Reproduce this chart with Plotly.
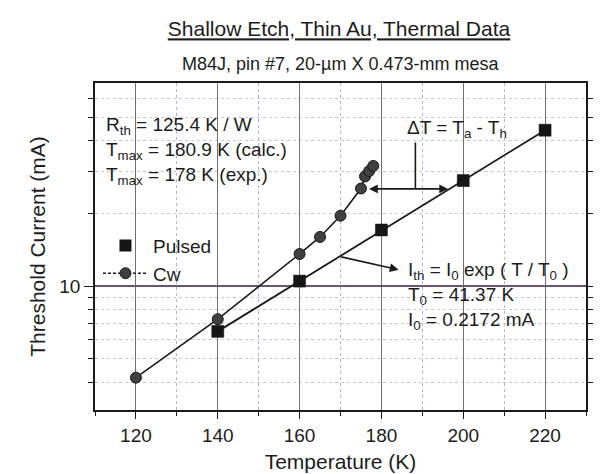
import math
import plotly.graph_objects as go

# ---- data ----
temps_pulsed = [140, 160, 180, 200, 220]
ith_pulsed = [6.5, 10.5, 17.1, 27.4, 44.3]
temps_cw = [120, 140, 160, 165, 170, 175, 176, 177, 178]
ith_cw = [4.18, 7.3, 13.6, 16.0, 19.6, 25.4, 28.5, 30.0, 31.5]
x_tickvals = [120, 140, 160, 180, 200, 220]
x_minor = [110, 130, 150, 170, 190, 210, 230]
y_tickvals = [10]
y_ticktext = ["10"]
y_minor = [4, 5, 6, 7, 8, 9, 20, 30, 40, 50, 60]

FONT = "Arial, Liberation Sans, sans-serif"
X_RANGE = [110, 230]
Y_RANGE = [math.log10(3.07), math.log10(69.5)]

fig = go.Figure()

# Cw data
fig.add_trace(go.Scatter(
    x=temps_cw, y=ith_cw, mode="lines+markers", showlegend=False,
    line=dict(color="#1a1a1a", width=1.6),
    marker=dict(symbol="circle", size=11, color="#404040", line=dict(color="#1a1a1a", width=1)),
))
# Pulsed data
fig.add_trace(go.Scatter(
    x=temps_pulsed, y=ith_pulsed, mode="lines+markers", showlegend=False,
    line=dict(color="#1a1a1a", width=1.8),
    marker=dict(symbol="square", size=12, color="#161616", line=dict(color="#111", width=0.5)),
))
# legend entries
fig.add_trace(go.Scatter(
    x=[None], y=[None], mode="markers", name="Pulsed",
    marker=dict(symbol="square", size=12, color="#161616"),
))
fig.add_trace(go.Scatter(
    x=[None], y=[None], mode="lines+markers", name="Cw",
    line=dict(color="#1a1a1a", width=1.4, dash="3px,2px"),
    marker=dict(symbol="circle", size=11, color="#404040", line=dict(color="#1a1a1a", width=1)),
))

# delta-T marker: vertical stem
dT_level = 25.3
fig.add_trace(go.Scatter(
    x=[188.3, 188.3], y=[dT_level, 39.4], mode="lines", showlegend=False,
    line=dict(color="#1a1a1a", width=1.6), hoverinfo="skip",
))

ann_font = dict(family=FONT, size=19, color="#1c1c1c")

def px_x(p):
    return (p - 87) / 498.0

def px_y(p):
    return (405 - p) / 330.0

annotations = []
for txt, py in [
    ("R<sub>th</sub> = 125.4 K / W", 118),
    ("T<sub>max</sub> = 180.9 K (calc.)", 144),
    ("T<sub>max</sub> = 178 K (exp.)", 169),
]:
    annotations.append(dict(text=txt, x=px_x(96), y=px_y(py), xref="paper", yref="paper",
                            xanchor="left", yanchor="middle", showarrow=False, font=ann_font))

annotations.append(dict(text="ΔT = T<sub>a</sub> - T<sub>h</sub>", x=px_x(401), y=px_y(121),
                        xref="paper", yref="paper", xanchor="left", yanchor="middle",
                        showarrow=False, font=ann_font))
for txt, py in [
    ("I<sub>th</sub> = I<sub>0</sub> exp ( T / T<sub>0</sub> )", 265),
    ("T<sub>0</sub> = 41.37 K", 290),
    ("I<sub>0</sub> = 0.2172 mA", 315),
]:
    annotations.append(dict(text=txt, x=px_x(402), y=px_y(py), xref="paper", yref="paper",
                            xanchor="left", yanchor="middle", showarrow=False, font=ann_font))

# double-headed arrow for delta T
annotations.append(dict(
    x=196.3, y=math.log10(dT_level), ax=176.6, ay=math.log10(dT_level),
    xref="x", yref="y", axref="x", ayref="y", text="", showarrow=True,
    arrowhead=2, arrowside="end+start", arrowsize=1.1, arrowwidth=1.6, arrowcolor="#1a1a1a",
))
# arrow pointing to fit equation
annotations.append(dict(
    x=184.2, y=1.0686, ax=169.8, ay=1.123,
    xref="x", yref="y", axref="x", ayref="y", text="", showarrow=True,
    arrowhead=2, arrowsize=1.1, arrowwidth=1.6, arrowcolor="#1a1a1a",
))

# subtitle
annotations.append(dict(
    text="M84J, pin #7, 20-µm X 0.473-mm mesa", x=px_x(336), y=px_y(56),
    xref="paper", yref="paper", xanchor="center", yanchor="middle", showarrow=False,
    font=dict(family=FONT, size=18, color="#1c1c1c"),
))

fig.update_layout(
    width=601, height=474,
    margin=dict(l=87, r=16, t=75, b=69),
    paper_bgcolor="white", plot_bgcolor="white",
    font=dict(family=FONT, color="#1c1c1c"),
    title=dict(
        text="Shallow Etch, Thin Au, Thermal Data",
        x=331 / 601, xanchor="center", y=1 - 21 / 474, yanchor="middle",
        font=dict(family=FONT, size=21, color="#1c1c1c", lineposition="under"),
    ),
    annotations=annotations,
    legend=dict(
        x=px_x(90), y=px_y(220), xanchor="left", yanchor="top",
        bgcolor="rgba(0,0,0,0)", font=dict(family=FONT, size=19, color="#1c1c1c"),
        itemwidth=45, tracegroupgap=0,
    ),
    xaxis=dict(
        range=X_RANGE, tickmode="array", tickvals=x_tickvals, ticks="outside", ticklen=7,
        tickwidth=1.3, tickcolor="#1a1a1a", tickfont=dict(family=FONT, size=19, color="#1c1c1c"),
        showline=True, linecolor="#1a1a1a", linewidth=1.6, mirror=True,
        showgrid=True, gridcolor="#707070", gridwidth=1.2, zeroline=False,
        minor=dict(tickmode="array", tickvals=x_minor, ticks="outside", ticklen=4,
                   tickcolor="#1a1a1a", showgrid=True, gridcolor="#b9aedb",
                   griddash="dot", gridwidth=1),
        title=dict(text="Temperature (K)", standoff=10,
                   font=dict(family=FONT, size=21, color="#1c1c1c")),
        layer="above traces",
    ),
    yaxis=dict(
        type="log", range=Y_RANGE, tickmode="array", tickvals=y_tickvals, ticktext=y_ticktext,
        ticks="outside", ticklen=9, tickwidth=1.3, tickcolor="#1a1a1a",
        tickfont=dict(family=FONT, size=19, color="#1c1c1c"),
        showline=True, linecolor="#1a1a1a", linewidth=1.6, mirror="ticks",
        showgrid=True, gridcolor="#6a5570", gridwidth=1.5, zeroline=False,
        minor=dict(tickmode="array", tickvals=y_minor, ticks="outside", ticklen=5,
                   tickcolor="#1a1a1a", showgrid=True, gridcolor="#cdc3e0",
                   griddash="dot", gridwidth=1),
        title=dict(text="Threshold Current (mA)", standoff=8,
                   font=dict(family=FONT, size=21, color="#1c1c1c")),
    ),
)

fig.write_html("out.html")
